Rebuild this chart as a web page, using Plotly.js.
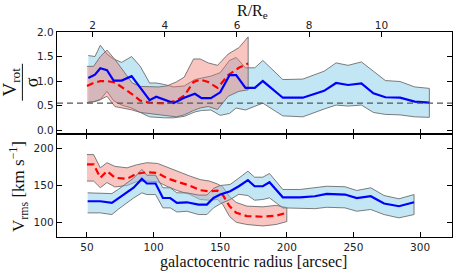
<!DOCTYPE html>
<html>
<head>
<meta charset="utf-8">
<script src="https://cdn.plot.ly/plotly-3.0.1.min.js"></script>
<style>html,body{margin:0;padding:0;background:#fff;}#chart{width:460px;height:276px;}</style>
</head>
<body>
<div id="chart"></div>
<script>
// ---- Data ----
const RE_ARCSEC = 27.1;            // arcsec per effective radius (top axis)
const X_RANGE = [27.5, 324];

// Top panel: V_rot / sigma
const blueTopX = [51, 56, 60, 65, 70, 76, 83.5, 90, 97, 102, 108, 115, 123, 131, 136, 143, 150, 157, 162, 169, 176, 182, 197, 212, 228, 237, 246, 256, 265, 274, 285, 296, 307];
const blueTopY = [1.06, 1.13, 1.26, 1.22, 1.01, 1.01, 1.10, 0.86, 0.61, 0.68, 0.62, 0.55, 0.66, 0.74, 0.65, 0.65, 0.77, 1.12, 1.12, 0.86, 0.86, 1.00, 0.66, 0.66, 0.80, 0.96, 0.92, 0.95, 0.75, 0.67, 0.66, 0.58, 0.56];
const blueTopHi = [1.52, 1.50, 1.73, 1.55, 1.45, 1.38, 1.50, 1.30, 0.96, 0.96, 0.93, 0.88, 0.90, 1.03, 1.06, 1.10, 1.17, 1.42, 1.48, 1.27, 1.27, 1.42, 1.03, 1.04, 1.20, 1.37, 1.32, 1.39, 1.20, 1.01, 0.99, 0.88, 0.85];
const blueTopLo = [0.57, 0.58, 0.62, 0.79, 0.60, 0.51, 0.45, 0.36, 0.27, 0.26, 0.25, 0.25, 0.28, 0.37, 0.40, 0.41, 0.30, 0.34, 0.45, 0.41, 0.48, 0.55, 0.29, 0.27, 0.43, 0.51, 0.49, 0.51, 0.36, 0.32, 0.31, 0.27, 0.26];

const redTopX = [50, 55, 60, 65, 71, 77, 84, 90, 97, 104, 110, 117, 123, 130, 135, 141, 148, 156, 164, 171];
const redTopY = [0.90, 0.96, 1.00, 1.00, 0.97, 0.86, 0.73, 0.60, 0.56, 0.55, 0.55, 0.60, 0.70, 0.98, 1.03, 0.98, 0.86, 1.12, 1.27, 1.36];
const redTopHi = [1.30, 1.30, 1.50, 1.63, 1.44, 1.23, 0.96, 0.89, 0.89, 0.88, 0.90, 0.98, 1.08, 1.45, 1.45, 1.37, 1.32, 1.55, 1.68, 1.90];
const redTopLo = [0.56, 0.58, 0.62, 0.69, 0.48, 0.44, 0.41, 0.36, 0.33, 0.31, 0.29, 0.27, 0.31, 0.40, 0.45, 0.48, 0.42, 0.69, 0.79, 0.82];
const refLevel = 0.55;

// Bottom panel: V_rms [km/s]
const blueBotX = [50.5, 60, 68.7, 73.7, 85, 91.2, 95, 101.5, 107, 112.5, 117.5, 125, 133.7, 140, 145, 150, 157.5, 164, 170.8, 175.8, 182, 187, 197, 210, 221, 230, 243.7, 252.5, 263, 273, 284.2, 295.5];
const blueBotY = [128.6, 128.6, 126.4, 133, 147, 159, 152.7, 152.7, 133, 133, 126.4, 127.2, 124, 124, 133, 137.7, 142.2, 149, 157.2, 149, 149, 154.5, 134, 134, 135.4, 138.7, 137.7, 133, 135.4, 125.5, 121.8, 127.2];
const blueBotHi = [140, 140, 139, 145, 160, 171.8, 164, 164, 146.9, 146.9, 140, 140, 137, 137, 146, 150, 151.4, 160, 169.5, 161.3, 161.3, 166.3, 144.6, 144.6, 146.9, 149, 148.3, 143.2, 146.9, 136.4, 131.9, 137.7];
const blueBotLo = [112.8, 112.8, 110.5, 118, 133, 140, 137.7, 137.7, 119.6, 119.6, 114, 115, 110.5, 110.5, 119.6, 125, 131, 138, 136.4, 130, 131, 133.2, 119.6, 119, 118.5, 120.4, 119.6, 115, 117.4, 110.5, 106, 110.5];

const redBotX = [50, 55, 60, 65, 71, 80, 87, 95, 103, 110, 118, 127, 135, 142, 148, 152, 157, 162, 170, 182, 192, 200];
const redBotY = [178.6, 178.6, 160.5, 169.5, 160.5, 159, 166, 168, 167, 160, 155, 150, 143.6, 142, 143, 137, 122, 113, 108.5, 107.5, 109, 113];
const redBotHi = [192, 192, 174, 181, 176, 174, 178, 181, 180, 175, 169, 163, 158, 156, 152, 148, 135, 127, 122, 121, 123, 120];
const redBotLo = [156, 156, 147, 154, 148, 150, 155, 156, 155, 149, 143, 138, 131, 130, 131, 124, 108, 100, 97, 95, 97, 101];

const xTicks = [50, 100, 150, 200, 250, 300];
const reTicks = [2, 4, 6, 8, 10];
const ratioTicks = [0, 0.5, 1.0, 1.5, 2.0];
const ratioTickText = ['0.0', '0.5', '1.0', '1.5', '2.0'];
const vrmsTicks = [100, 150, 200];

// ---- Styles ----
const BLUE_FILL = 'rgba(135,206,235,0.5)';
const RED_FILL = 'rgba(240,110,100,0.4)';
const EDGE = 'rgba(110,110,110,0.9)';

function band(x, hi, lo, fill, xa, ya) {
  return {
    x: x.concat(x.slice().reverse()),
    y: hi.concat(lo.slice().reverse()),
    xaxis: xa, yaxis: ya, type: 'scatter', mode: 'lines',
    fill: 'toself', fillcolor: fill,
    line: {color: EDGE, width: 1}, hoverinfo: 'skip'
  };
}
function line(x, y, color, dash, xa, ya) {
  return {x: x, y: y, xaxis: xa, yaxis: ya, type: 'scatter', mode: 'lines',
    line: {color: color, width: 2.2, dash: dash}};
}

const traces = [
  band(blueTopX, blueTopHi, blueTopLo, BLUE_FILL, 'x2', 'y2'),
  band(redTopX, redTopHi, redTopLo, RED_FILL, 'x2', 'y2'),
  line(redTopX, redTopY, '#ff0000', '7px,4px', 'x2', 'y2'),
  line(blueTopX, blueTopY, '#0000ff', 'solid', 'x2', 'y2'),
  band(redBotX, redBotHi, redBotLo, RED_FILL, 'x', 'y'),
  band(blueBotX, blueBotHi, blueBotLo, BLUE_FILL, 'x', 'y'),
  line(redBotX, redBotY, '#ff0000', '7px,4px', 'x', 'y'),
  line(blueBotX, blueBotY, '#0000ff', 'solid', 'x', 'y'),
  {x: [], y: [], xaxis: 'x3', yaxis: 'y2', type: 'scatter', mode: 'lines'}
];

const tickFont = {family: 'DejaVu Sans', size: 10.5, color: '#222'};
const common = {
  showgrid: false, zeroline: false, ticks: 'inside', ticklen: 5, tickwidth: 1,
  tickcolor: '#000', showline: true, linecolor: '#000', linewidth: 1.3, tickfont: tickFont
};
const SPLIT = 0.5024;
const RE_RANGE = [X_RANGE[0] / RE_ARCSEC, X_RANGE[1] / RE_ARCSEC];

const layout = {
  width: 460, height: 276,
  margin: {l: 57, r: 8, t: 32, b: 39, pad: 0},
  paper_bgcolor: '#fff', plot_bgcolor: '#fff',
  showlegend: false,
  xaxis: Object.assign({}, common, {anchor: 'y', range: X_RANGE, tickvals: xTicks, mirror: 'ticks'}),
  yaxis: Object.assign({}, common, {domain: [0, SPLIT], anchor: 'x', range: [80, 220], tickvals: vrmsTicks, mirror: 'ticks'}),
  xaxis2: Object.assign({}, common, {anchor: 'y2', range: X_RANGE, tickvals: xTicks, showticklabels: false, mirror: true}),
  yaxis2: Object.assign({}, common, {domain: [SPLIT, 1], anchor: 'x2', range: [-0.08, 2.0], tickvals: ratioTicks, ticktext: ratioTickText, mirror: 'ticks'}),
  xaxis3: Object.assign({}, common, {overlaying: 'x2', side: 'top', anchor: 'y2', range: RE_RANGE, tickvals: reTicks, showline: false}),
  shapes: [
    {type: 'line', xref: 'paper', x0: -0.0876, x1: -0.0876, yref: 'paper', y0: 0.665, y1: 0.845,
     line: {color: '#111', width: 1}},
    {type: 'line', xref: 'paper', x0: 0, x1: 1, yref: 'y2', y0: refLevel, y1: refLevel,
     line: {color: '#555', width: 1.4, dash: '6px,4px'}}
  ],
  annotations: [
    {xref: 'paper', yref: 'paper', x: 0.496, y: 1.102, showarrow: false, xanchor: 'center', yanchor: 'middle',
     text: 'R/R<sub>e</sub>', font: {family: 'Liberation Serif', size: 16, color: '#111'}},
    {xref: 'paper', yref: 'paper', x: 0.497, y: -0.122, showarrow: false, xanchor: 'center', yanchor: 'middle',
     text: 'galactocentric radius [arcsec]', font: {family: 'Liberation Serif', size: 16, color: '#111'}},
    {xref: 'paper', yref: 'paper', x: -0.0962, y: 0.244, showarrow: false, xanchor: 'center', yanchor: 'middle',
     textangle: -90, text: 'V<sub>rms</sub> [km s<sup>−1</sup>]', font: {family: 'Liberation Serif', size: 17, color: '#111'}},
    {xref: 'paper', yref: 'paper', x: -0.1175, y: 0.756, showarrow: false, xanchor: 'center', yanchor: 'middle',
     textangle: -90, text: 'V<sub>rot</sub>', font: {family: 'Liberation Serif', size: 19, color: '#111'}},
    {xref: 'paper', yref: 'paper', x: -0.064, y: 0.753, showarrow: false, xanchor: 'center', yanchor: 'middle',
     textangle: -90, text: 'σ', font: {family: 'Liberation Serif', size: 18, color: '#111'}}
  ]
};

Plotly.newPlot('chart', traces, layout, {staticPlot: true, displayModeBar: false});
</script>
</body>
</html>
